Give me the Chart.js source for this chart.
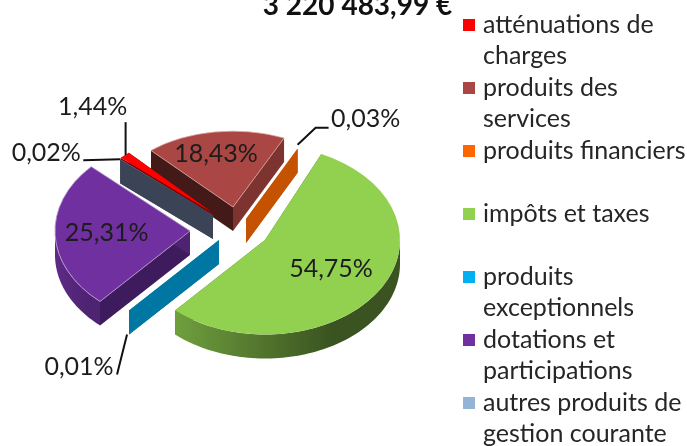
<!DOCTYPE html>
<html><head><meta charset="utf-8">
<style>html,body{margin:0;padding:0;background:#fff;overflow:hidden;width:687px;height:446px}
#wrap{width:687px;height:446px;overflow:hidden}canvas{display:block}</style>
<script src="https://cdn.jsdelivr.net/npm/chart.js@4"></script></head>
<body><div id="wrap"><canvas id="c" width="687" height="620"></canvas></div>
<script>
const chartTitle = '3 220 483,99 €';
const categories = [
  ['atténuations de','charges'],
  ['produits des','services'],
  ['produits financiers',' '],
  ['impôts et taxes',' '],
  ['produits','exceptionnels'],
  ['dotations et','participations'],
  ['autres produits de','gestion courante']
];
const shares = [1.44, 18.43, 0.03, 54.75, 0.01, 25.31, 0.02];
const topColors = ['#FF0000','#AA4643','#FF6600','#92D050','#00B0F0','#7030A0','#95B3D7'];
const borderColors = ['#FF0000','#D9A9A7','#FF6600','#92D050','#00B0F0','#B79CCF','#95B3D7'];
const borderWidths = [0,1,0,0,0,1,0];
const startWalls = ['#7A0000','#431A17','#C55200','#4A6B28','#0077A3','#3E1B5C','#3B4356'];
const endWalls = ['#7A0000','#7D3330','#C55200','#4A6B28','#0077A3','#4E2372','#3B4356'];
const rimLeft = ['#7A0000','#7D3330','#C55200','#6F9F3E','#0077A3','#5E2B86','#3B4356'];
const rimRight = ['#7A0000','#7D3330','#C55200','#3A5320','#0077A3','#4E2372','#3B4356'];
const explodeX = [-19, 1, 14, 33, -13, -42, -19];
const explodeY = [-17, -23, -11, 10, 10, 1, -15];
const labelFractions = [null, 0.65, null, 0.62, null, 0.64, null];
const leaderPaths = [
  [[1,0],[1,-33]], null, [[0,-4],[18,-21],[31,-21]], null,
  [[-2,24],[-12,64]], null, [[0,0],[-37,1]]
];
const labelShifts = [[-32,-48],[-5,-4],[68,-30],[-4,-3],[-50,56],[3,-1],[-74,-6]];
const pieCenter = {x:232, y:230};
const flatten = 0.7, perspectiveX = 0.09, perspectiveY = 0.2, depth = 24, baseRadius = 135;

const fmt = v => v.toFixed(2).replace('.', ',') + '%';

function swatch(color){
  const cv = document.createElement('canvas');
  cv.width = 12; cv.height = 12;
  const g = cv.getContext('2d');
  g.fillStyle = color; g.fillRect(0,0,12,12);
  return cv;
}
const pie3d = {
  id:'pie3d',
  afterLayout(chart){
    const lg = chart.legend;
    lg.left = 467.5; lg.right = 687;
    lg.top = 12; lg.bottom = 620;
    lg.draw = function(){ this._draw(); };
    const t = chart.titleBlock;
    t.left += 14; t.right += 14; t.top = -11; t.bottom = t.top + t.height;
  },
  beforeDatasetDraw(chart, args){
    const ctx = chart.ctx, arcs = chart.getDatasetMeta(args.index).data;
    const info = arcs.map((arc,i)=>{
      const mid = (arc.startAngle + arc.endAngle)/2;
      const back = Math.min(0, Math.sin(mid));
      const sx = 1 + perspectiveX*back, sy = 1 + perspectiveY*back;
      const ax = pieCenter.x + explodeX[i];
      const ay = pieCenter.y + explodeY[i];
      const P = (a,r)=>[ax + sx*r*Math.cos(a), ay + sy*flatten*r*Math.sin(a)];
      return {arc,i,mid,sx,sy,ax,ay,P,R:arc.outerRadius};
    });
    const order = info.slice().sort((a,b)=>a.ay-b.ay);
    order.forEach(o=>{
      const {arc,i,sx,sy,P,R} = o, d = depth;
      const wall = (ang,col)=>{
        const q=P(ang,0), e=P(ang,R);
        ctx.beginPath();ctx.moveTo(q[0],q[1]);ctx.lineTo(e[0],e[1]);ctx.lineTo(e[0],e[1]+d);ctx.lineTo(q[0],q[1]+d);ctx.closePath();
        ctx.fillStyle=col;ctx.fill();
      };
      wall(arc.startAngle,startWalls[i]);
      wall(arc.endAngle,endWalls[i]);
      const a0=arc.startAngle, a1=arc.endAngle;
      const rimPts=[];
      for(let n=0;n<=120;n++){const a=a0+(a1-a0)*n/120; if(Math.sin(a)>=-0.02) rimPts.push(a);}
      if(rimPts.length>1){
        const pts=rimPts.map(a=>P(a,R));
        const xs=pts.map(p=>p[0]);
        const gr=ctx.createLinearGradient(Math.min(...xs),0,Math.max(...xs),0);
        gr.addColorStop(0,rimLeft[i]);gr.addColorStop(0.7,rimRight[i]);gr.addColorStop(1,rimRight[i]);
        ctx.beginPath();
        pts.forEach((p,k)=>k?ctx.lineTo(p[0],p[1]):ctx.moveTo(p[0],p[1]));
        pts.slice().reverse().forEach(p=>ctx.lineTo(p[0],p[1]+d));
        ctx.closePath();ctx.fillStyle=gr;ctx.fill();
      }
      ctx.save();
      ctx.translate(o.ax,o.ay);ctx.scale(sx,sy*flatten);ctx.translate(-arc.x,-arc.y);
      arc.draw(ctx);
      ctx.restore();
    });
    ctx.save();
    ctx.font='25px Lato';ctx.fillStyle='#1c1c1c';ctx.textAlign='center';ctx.textBaseline='middle';
    info.forEach(o=>{
      const {i,mid,P,R}=o, f=labelFractions[i];
      const base=P(mid,(f===null?1:f)*R);
      const sh=labelShifts[i];
      ctx.fillText(fmt(shares[i]),base[0]+sh[0],base[1]+sh[1]);
      if(leaderPaths[i]){
        ctx.beginPath();
        leaderPaths[i].forEach((p,k)=>{const x=base[0]+p[0],y=base[1]+p[1];k?ctx.lineTo(x,y):ctx.moveTo(x,y);});
        ctx.strokeStyle='#111';ctx.lineWidth=2;ctx.stroke();
      }
    });
    ctx.restore();
    return false;
  }
};
new Chart(document.getElementById('c'),{
  type:'pie',
  data:{labels:categories,datasets:[{data:shares,backgroundColor:topColors,borderColor:borderColors,borderWidth:borderWidths,offset:0}]},
  options:{
    responsive:false,animation:false,radius:baseRadius,rotation:-47,
    layout:{padding:0},
    plugins:{
      tooltip:{enabled:false},
      title:{display:true,text:chartTitle,color:'#111',padding:0,font:{family:'Lato',size:28,weight:'bold'}},
      legend:{position:'right',align:'start',labels:{
        boxWidth:12,boxHeight:12,padding:0,usePointStyle:true,pointStyleWidth:3,color:'#262626',
        font:{family:'Lato',size:25,lineHeight:1.26},
        generateLabels(chart){
          return Chart.overrides.pie.plugins.legend.labels.generateLabels(chart)
            .map((it,i)=>Object.assign(it,{pointStyle:swatch(topColors[i])}));
        }
      }}
    }
  },
  plugins:[pie3d]
});
</script></body></html>
